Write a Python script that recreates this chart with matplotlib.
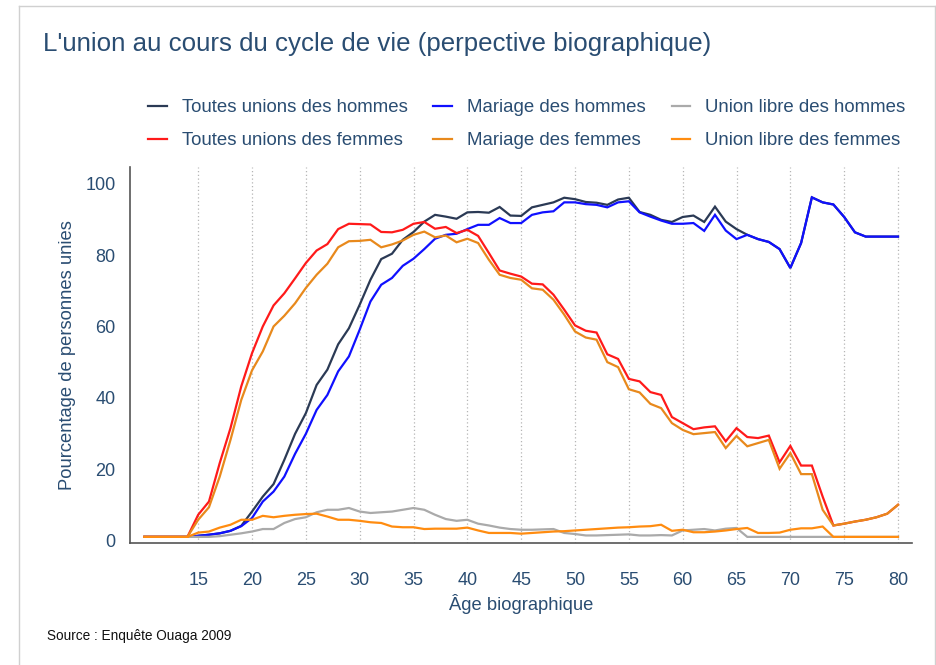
import matplotlib
matplotlib.use("Agg")
import matplotlib.pyplot as plt
import numpy as np

plt.rcParams['font.family'] = ['Liberation Sans', 'DejaVu Sans']

# ages 10 a 80
ages = list(range(10, 81))

# Toutes unions des hommes
toutes_hommes = [1, 1, 1, 1, 1,
                 1.3, 1.6, 2.0, 2.7, 4.1, 8.1, 12.3, 15.8, 22.6, 29.9,
                 35.7, 43.6, 47.9, 55.0, 59.5, 66.1, 73.1, 78.9, 80.4, 84.3,
                 86.5, 89.4, 91.3, 90.8, 90.2, 92.0, 92.1, 91.9, 93.5, 91.1,
                 91.0, 93.4, 94.1, 94.8, 96.1, 95.7, 94.9, 94.7, 94.1, 95.6,
                 96.1, 92.1, 91.3, 89.9, 89.3, 90.7, 91.1, 89.3, 93.6, 89.4,
                 87.3, 85.7, 84.5, 83.7, 81.7, 76.4, 83.4, 96.2, 94.8, 94.2,
                 90.7, 86.4, 85.2, 85.2, 85.2, 85.2]
# Mariage des hommes
mariage_hommes = [1, 1, 1, 1, 1,
                  1.3, 1.6, 2.0, 2.7, 4.0, 6.3, 10.9, 13.7, 17.9, 24.3,
                  29.9, 36.6, 40.8, 47.4, 51.6, 59.1, 67.0, 71.7, 73.6, 77.0,
                  79.0, 81.7, 84.6, 85.7, 86.0, 87.3, 88.5, 88.5, 90.4, 89.0,
                  89.0, 91.3, 92.0, 92.3, 94.8, 94.8, 94.3, 94.1, 93.4, 94.8,
                  95.1, 92.0, 90.8, 89.7, 88.8, 88.8, 89.0, 86.8, 91.3, 86.9,
                  84.5, 85.7, 84.5, 83.7, 81.7, 76.4, 83.4, 96.2, 94.8, 94.2,
                  90.7, 86.4, 85.2, 85.2, 85.2, 85.2]
# Union libre des hommes
libre_hommes = [1, 1, 1, 1, 1,
                1.0, 1.0, 1.2, 1.6, 2.0, 2.5, 3.2, 3.2, 4.9, 6.0,
                6.5, 7.9, 8.6, 8.6, 9.1, 8.1, 7.7, 7.9, 8.1, 8.6,
                9.1, 8.6, 7.2, 6.0, 5.5, 5.8, 4.7, 4.2, 3.6, 3.2,
                3.0, 3.0, 3.1, 3.2, 2.1, 1.8, 1.4, 1.4, 1.5, 1.6,
                1.7, 1.4, 1.4, 1.5, 1.4, 2.8, 3.0, 3.2, 2.8, 3.3,
                3.5, 1.0, 1.0, 1.0, 1.0, 1.0, 1.0, 1.0, 1.0, 1.0,
                1.0, 1.0, 1.0, 1.0, 1.0, 1.0]
# Toutes unions des femmes
toutes_femmes = [1, 1, 1, 1, 1,
                 7.2, 10.9, 21.7, 31.5, 43.2, 52.5, 60.0, 65.9, 69.3, 73.5,
                 77.8, 81.3, 83.1, 87.3, 88.8, 88.7, 88.6, 86.5, 86.4, 87.1,
                 88.8, 89.3, 87.4, 87.9, 86.2, 87.1, 85.4, 80.6, 75.7, 74.8,
                 74.0, 72.0, 71.8, 68.9, 64.7, 60.3, 58.8, 58.3, 52.2, 50.9,
                 45.3, 44.6, 41.6, 40.8, 34.6, 32.9, 31.2, 31.7, 32.0, 27.8,
                 31.5, 29.0, 28.7, 29.4, 21.9, 26.5, 21.0, 21.0, 12.3, 4.2,
                 4.7, 5.3, 5.8, 6.5, 7.5, 10.0]
# Mariage des femmes
mariage_femmes = [1, 1, 1, 1, 1,
                  5.8, 9.3, 17.9, 28.2, 39.4, 47.7, 53.0, 60.0, 63.0, 66.5,
                  70.8, 74.5, 77.6, 82.2, 83.9, 84.0, 84.3, 82.2, 83.0, 84.1,
                  85.7, 86.6, 85.0, 85.5, 83.6, 84.6, 83.4, 78.7, 74.5, 73.6,
                  73.1, 70.7, 70.3, 67.5, 63.3, 58.6, 56.9, 56.3, 50.0, 48.6,
                  42.4, 41.5, 38.3, 37.1, 32.9, 31.0, 29.8, 30.1, 30.4, 25.9,
                  29.3, 26.4, 27.3, 28.2, 20.1, 24.5, 18.6, 18.6, 8.6, 4.2,
                  4.7, 5.3, 5.8, 6.5, 7.5, 10.0]
# Union libre des femmes
libre_femmes = [1, 1, 1, 1, 1,
                2.2, 2.5, 3.6, 4.4, 5.8, 5.8, 6.9, 6.5, 6.9, 7.2,
                7.4, 7.5, 6.7, 5.8, 5.8, 5.5, 5.1, 4.9, 3.9, 3.7,
                3.7, 3.2, 3.3, 3.3, 3.3, 3.6, 2.8, 2.1, 2.1, 2.1,
                1.9, 2.1, 2.3, 2.5, 2.6, 2.8, 3.0, 3.2, 3.4, 3.6,
                3.7, 3.9, 4.0, 4.4, 2.7, 3.0, 2.3, 2.3, 2.5, 2.8,
                3.2, 3.5, 2.1, 2.1, 2.2, 3.0, 3.4, 3.4, 3.9, 1.0,
                1.0, 1.0, 1.0, 1.0, 1.0, 1.0]

series = [
    ("Toutes unions des hommes", toutes_hommes, "#2b3a55"),
    ("Toutes unions des femmes", toutes_femmes, "#ff1a1a"),
    ("Mariage des hommes", mariage_hommes, "#1010ff"),
    ("Mariage des femmes", mariage_femmes, "#e8891c"),
    ("Union libre des hommes", libre_hommes, "#aaaaaa"),
    ("Union libre des femmes", libre_femmes, "#ff8c10"),
]
# ordre de dessin (le dernier dessus)
draw_order = [0, 2, 4, 1, 3, 5]

txt = "#2a4d72"

fig = plt.figure(figsize=(9.37, 6.65), dpi=100)
ax = fig.add_axes([129.5 / 937, 1 - 543.3 / 665, (912 - 129.5) / 937, (543.3 - 166.7) / 665])

lines = {}
for i in draw_order:
    name, vals, col = series[i]
    l, = ax.plot(ages, vals, color=col, lw=1.6, label=name, solid_joinstyle="miter")
    lines[i] = l

ax.set_xlim(8.62, 81.3)
ax.set_ylim(-0.8, 104.8)
ax.set_xticks(range(15, 81, 5))
ax.set_yticks(range(0, 101, 20))
ax.grid(axis="x", color="#b5b5b5", ls=(0, (1, 2)), lw=0.9)
ax.set_axisbelow(True)
for s in ["top", "right"]:
    ax.spines[s].set_visible(False)
for s in ["left", "bottom"]:
    ax.spines[s].set_color("#555555")
    ax.spines[s].set_linewidth(1.2)
ax.tick_params(axis="both", length=0, labelsize=13, labelcolor=txt)
ax.tick_params(axis="x", pad=21)
ax.tick_params(axis="y", pad=10)
ax.set_xlabel("Âge biographique", fontsize=13.2, color=txt, labelpad=3)
ax.set_ylabel("Pourcentage de personnes unies", fontsize=13.2, color=txt, labelpad=7)

fig.text(43 / 937, 1 - 44 / 665, "L'union au cours du cycle de vie (perpective biographique)",
         fontsize=18.6, color=txt, va="center", ha="left")
fig.text(47 / 937, 1 - 636 / 665, "Source : Enquête Ouaga 2009", fontsize=9.8,
         color="#111111", va="center", ha="left")

handles = [lines[i] for i in range(6)]
labels = [series[i][0] for i in range(6)]
leg = fig.legend(handles, labels, ncol=3, loc="upper left", frameon=False,
                 bbox_to_anchor=(148 / 937, 1 - 99 / 665), borderaxespad=0, borderpad=0,
                 fontsize=13.4, handlelength=1.0, handletextpad=0.8,
                 columnspacing=1.4, labelspacing=0.88)
for t in leg.get_texts():
    t.set_color(txt)

# cadre de la page
fig.add_artist(plt.Line2D([19.5 / 937, 19.5 / 937], [0, 1 - 6 / 665], color="#d0d0d0", lw=1))
fig.add_artist(plt.Line2D([19.5 / 937, 935 / 937], [1 - 6 / 665, 1 - 6 / 665], color="#d0d0d0", lw=1))
fig.add_artist(plt.Line2D([935 / 937, 935 / 937], [0, 1 - 6 / 665], color="#d0d0d0", lw=1))

fig.savefig("out.png", dpi=100)
